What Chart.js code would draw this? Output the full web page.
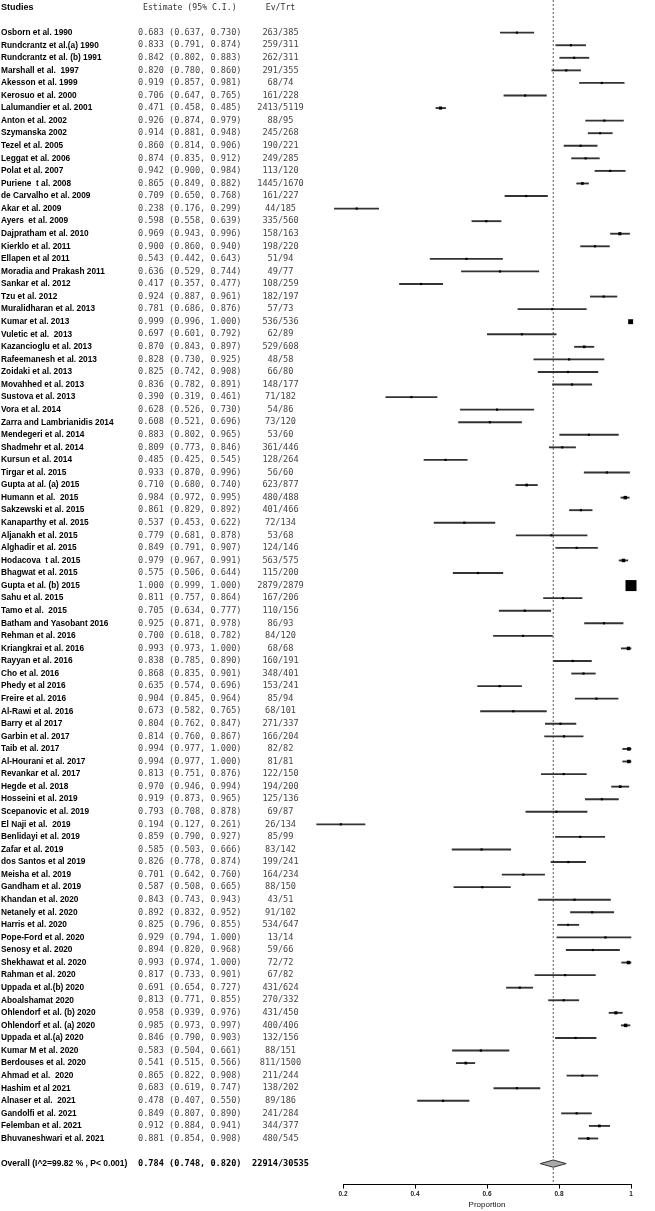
<!DOCTYPE html>
<html>
<head>
<meta charset="utf-8">
<script src="https://cdn.jsdelivr.net/npm/chart.js@4.4.1/dist/chart.umd.min.js"></script>
<style>
  html, body { margin: 0; padding: 0; background: #fff; }
  canvas { display: block; }
</style>
</head>
<body>
<canvas id="forest" width="655" height="1211"></canvas>
<script>
// study labels, top to bottom
const studies = [
  "Osborn et al. 1990", "Rundcrantz et al.(a) 1990", "Rundcrantz et al. (b) 1991", "Marshall et al.  1997",
  "Akesson et al. 1999", "Kerosuo et al. 2000", "Lalumandier et al. 2001", "Anton et al. 2002",
  "Szymanska 2002", "Tezel et al. 2005", "Leggat et al. 2006", "Polat et al. 2007",
  "Puriene  t al. 2008", "de Carvalho et al. 2009", "Akar et al. 2009", "Ayers  et al. 2009",
  "Dajpratham et al. 2010", "Kierklo et al. 2011", "Ellapen et al 2011", "Moradia and Prakash 2011",
  "Sankar et al. 2012", "Tzu et al. 2012", "Muralidharan et al. 2013", "Kumar et al. 2013",
  "Vuletic et al.  2013", "Kazancioglu et al. 2013", "Rafeemanesh et al. 2013", "Zoidaki et al. 2013",
  "Movahhed et al. 2013", "Sustova et al. 2013", "Vora et al. 2014", "Zarra and Lambrianidis 2014",
  "Mendegeri et al. 2014", "Shadmehr et al. 2014", "Kursun et al. 2014", "Tirgar et al. 2015",
  "Gupta at al. (a) 2015", "Humann et al.  2015", "Sakzewski et al. 2015", "Kanaparthy et al. 2015",
  "Aljanakh et al. 2015", "Alghadir et al. 2015", "Hodacova  t al. 2015", "Bhagwat et al. 2015",
  "Gupta et al. (b) 2015", "Sahu et al. 2015", "Tamo et al.  2015", "Batham and Yasobant 2016",
  "Rehman et al. 2016", "Kriangkrai et al. 2016", "Rayyan et al. 2016", "Cho et al. 2016",
  "Phedy et al 2016", "Freire et al. 2016", "Al-Rawi et al. 2016", "Barry et al 2017",
  "Garbin et al. 2017", "Taib et al. 2017", "Al-Hourani et al. 2017", "Revankar et al. 2017",
  "Hegde et al. 2018", "Hosseini et al. 2019", "Scepanovic et al. 2019", "El Naji et al.  2019",
  "Benlidayi et al. 2019", "Zafar et al. 2019", "dos Santos et al 2019", "Meisha et al. 2019",
  "Gandham et al. 2019", "Khandan et al. 2020", "Netanely et al. 2020", "Harris et al. 2020",
  "Pope-Ford et al. 2020", "Senosy et al. 2020", "Shekhawat et al. 2020", "Rahman et al. 2020",
  "Uppada et al.(b) 2020", "Aboalshamat 2020", "Ohlendorf et al. (b) 2020", "Ohlendorf et al. (a) 2020",
  "Uppada et al.(a) 2020", "Kumar M et al. 2020", "Berdouses et al. 2020", "Ahmad et al.  2020",
  "Hashim et al 2021", "Alnaser et al.  2021", "Gandolfi et al. 2021", "Felemban et al. 2021",
  "Bhuvaneshwari et al. 2021"
];

const estimate = [
  0.683, 0.833, 0.842, 0.820, 0.919, 0.706, 0.471, 0.926, 0.914, 0.860, 0.874, 0.942,
  0.865, 0.709, 0.238, 0.598, 0.969, 0.900, 0.543, 0.636, 0.417, 0.924, 0.781, 0.999,
  0.697, 0.870, 0.828, 0.825, 0.836, 0.390, 0.628, 0.608, 0.883, 0.809, 0.485, 0.933,
  0.710, 0.984, 0.861, 0.537, 0.779, 0.849, 0.979, 0.575, 1.000, 0.811, 0.705, 0.925,
  0.700, 0.993, 0.838, 0.868, 0.635, 0.904, 0.673, 0.804, 0.814, 0.994, 0.994, 0.813,
  0.970, 0.919, 0.793, 0.194, 0.859, 0.585, 0.826, 0.701, 0.587, 0.843, 0.892, 0.825,
  0.929, 0.894, 0.993, 0.817, 0.691, 0.813, 0.958, 0.985, 0.846, 0.583, 0.541, 0.865,
  0.683, 0.478, 0.849, 0.912, 0.881
];

const lower = [
  0.637, 0.791, 0.802, 0.780, 0.857, 0.647, 0.458, 0.874, 0.881, 0.814, 0.835, 0.900,
  0.849, 0.650, 0.176, 0.558, 0.943, 0.860, 0.442, 0.529, 0.357, 0.887, 0.686, 0.996,
  0.601, 0.843, 0.730, 0.742, 0.782, 0.319, 0.526, 0.521, 0.802, 0.773, 0.425, 0.870,
  0.680, 0.972, 0.829, 0.453, 0.681, 0.791, 0.967, 0.506, 0.999, 0.757, 0.634, 0.871,
  0.618, 0.973, 0.785, 0.835, 0.574, 0.845, 0.582, 0.762, 0.760, 0.977, 0.977, 0.751,
  0.946, 0.873, 0.708, 0.127, 0.790, 0.503, 0.778, 0.642, 0.508, 0.743, 0.832, 0.796,
  0.794, 0.820, 0.974, 0.733, 0.654, 0.771, 0.939, 0.973, 0.790, 0.504, 0.515, 0.822,
  0.619, 0.407, 0.807, 0.884, 0.854
];

const upper = [
  0.730, 0.874, 0.883, 0.860, 0.981, 0.765, 0.485, 0.979, 0.948, 0.906, 0.912, 0.984,
  0.882, 0.768, 0.299, 0.639, 0.996, 0.940, 0.643, 0.744, 0.477, 0.961, 0.876, 1.000,
  0.792, 0.897, 0.925, 0.908, 0.891, 0.461, 0.730, 0.696, 0.965, 0.846, 0.545, 0.996,
  0.740, 0.995, 0.892, 0.622, 0.878, 0.907, 0.991, 0.644, 1.000, 0.864, 0.777, 0.978,
  0.782, 1.000, 0.890, 0.901, 0.696, 0.964, 0.765, 0.847, 0.867, 1.000, 1.000, 0.876,
  0.994, 0.965, 0.878, 0.261, 0.927, 0.666, 0.874, 0.760, 0.665, 0.943, 0.952, 0.855,
  1.000, 0.968, 1.000, 0.901, 0.727, 0.855, 0.976, 0.997, 0.903, 0.661, 0.566, 0.908,
  0.747, 0.550, 0.890, 0.941, 0.908
];

const events = [
  263, 259, 262, 291, 68, 161, 2413, 88, 245, 190, 249, 113,
  1445, 161, 44, 335, 158, 198, 51, 49, 108, 182, 57, 536,
  62, 529, 48, 66, 148, 71, 54, 73, 53, 361, 128, 56,
  623, 480, 401, 72, 53, 124, 563, 115, 2879, 167, 110, 86,
  84, 68, 160, 348, 153, 85, 68, 271, 166, 82, 81, 122,
  194, 125, 69, 26, 85, 83, 199, 164, 88, 43, 91, 534,
  13, 59, 72, 67, 431, 270, 431, 400, 132, 88, 811, 211,
  138, 89, 241, 344, 480
];

const totals = [
  385, 311, 311, 355, 74, 228, 5119, 95, 268, 221, 285, 120,
  1670, 227, 185, 560, 163, 220, 94, 77, 259, 197, 73, 536,
  89, 608, 58, 80, 177, 182, 86, 120, 60, 446, 264, 60,
  877, 488, 466, 134, 68, 146, 575, 200, 2879, 206, 156, 93,
  120, 68, 191, 401, 241, 94, 101, 337, 204, 82, 81, 150,
  200, 136, 87, 134, 99, 142, 241, 234, 150, 51, 102, 647,
  14, 66, 72, 82, 624, 332, 450, 406, 156, 151, 1500, 244,
  202, 186, 284, 377, 545
];

// relative box weight
const boxWeight = [
  1, 1, 1, 1, 1, 1, 2, 1, 1, 1, 1, 1,
  1.5, 1, 1, 1, 2, 1, 1, 1, 1, 1, 1, 5,
  1, 1.5, 1, 1, 1, 1, 1, 1, 1, 1, 1, 1,
  1.5, 2.5, 1, 1, 1, 1, 2.5, 1, 25, 1, 1, 1,
  1, 2.5, 1, 1, 1, 1, 1, 1, 1, 2.5, 2.5, 1,
  1.5, 1, 1, 1, 1, 1, 1, 1, 1, 1, 1, 1,
  1, 1, 2.5, 1, 1, 1, 2, 2.5, 1, 1, 1.5, 1,
  1, 1, 1, 1.5, 1.5
];

const overallLabel = "Overall (I^2=99.82 % , P< 0.001)";
const overallEstimate = [0.784, 0.748, 0.820];
const overallCounts = [22914, 30535];
const xTicks = [0.2, 0.4, 0.6, 0.8, 1];

// layout of rows on the y scale (row index units)
const overallRow = studies.length + 1;
const yTop = -2.6;
const yBottom = 91.67;
const diamondHalf = 0.29;

const monoFont = '"DejaVu Sans Mono", "Liberation Mono", monospace';
const sansFont = '"Liberation Sans", Arial, sans-serif';

const fmt = v => v.toFixed(3);
const ciText = (e, l, h) => fmt(e) + " (" + fmt(l) + ", " + fmt(h) + ")";

const columnsPlugin = {
  id: "columns",
  afterDraw(chart) {
    const ctx = chart.ctx;
    const y = chart.scales.y;
    ctx.save();
    ctx.textBaseline = "middle";

    // header
    const hy = y.getPixelForValue(-2);
    ctx.fillStyle = "#000";
    ctx.textAlign = "left";
    ctx.font = "bold 9px " + sansFont;
    ctx.fillText("Studies", 1, hy);
    ctx.fillStyle = "#333";
    ctx.font = "8.2px " + monoFont;
    ctx.fillText("Estimate (95% C.I.)", 143, hy);
    ctx.textAlign = "center";
    ctx.fillText("Ev/Trt", 280.5, hy);

    studies.forEach((name, i) => {
      const py = y.getPixelForValue(i);
      ctx.textAlign = "left";
      ctx.fillStyle = "#000";
      ctx.font = "bold 8.3px " + sansFont;
      ctx.fillText(name, 1, py);
      ctx.fillStyle = "#444";
      ctx.font = "8.6px " + monoFont;
      ctx.fillText(ciText(estimate[i], lower[i], upper[i]), 138, py);
      ctx.textAlign = "center";
      ctx.fillText(events[i] + "/" + totals[i], 280.5, py);
    });

    const oy = y.getPixelForValue(overallRow);
    ctx.textAlign = "left";
    ctx.fillStyle = "#000";
    ctx.font = "bold 8.5px " + sansFont;
    ctx.fillText(overallLabel, 1, oy);
    ctx.font = "bold 8.6px " + monoFont;
    ctx.fillText(ciText(overallEstimate[0], overallEstimate[1], overallEstimate[2]), 138, oy);
    ctx.textAlign = "center";
    ctx.fillText(overallCounts[0] + "/" + overallCounts[1], 280.5, oy);
    ctx.restore();
  }
};

const ctx = document.getElementById("forest").getContext("2d");

new Chart(ctx, {
  type: "scatter",
  data: {
    datasets: [
      {
        type: "bar",
        indexAxis: "y",
        data: studies.map((s, i) => ({ y: i, x: [lower[i], upper[i]] })),
        backgroundColor: "#333",
        borderWidth: 0,
        barThickness: 1.2,
        clip: false,
        order: 3
      },
      {
        data: estimate.map((v, i) => ({ x: v, y: i })),
        pointStyle: "rect",
        pointRadius: boxWeight.map(w => 2.2 * Math.sqrt(w) / Math.SQRT2),
        backgroundColor: "#000",
        borderColor: "#000",
        borderWidth: 0,
        clip: false,
        order: 1
      },
      {
        data: [{ x: overallEstimate[0], y: yTop }, { x: overallEstimate[0], y: yBottom }],
        showLine: true,
        borderColor: "#555",
        borderWidth: 1,
        borderDash: [2, 2],
        pointRadius: 0,
        order: 4
      },
      {
        data: [
          { x: overallEstimate[1], y: overallRow },
          { x: overallEstimate[0], y: overallRow - diamondHalf },
          { x: overallEstimate[2], y: overallRow },
          { x: overallEstimate[0], y: overallRow + diamondHalf },
          { x: overallEstimate[1], y: overallRow }
        ],
        showLine: true,
        fill: "shape",
        backgroundColor: "#a8a8a8",
        borderColor: "#333",
        borderWidth: 1,
        pointRadius: 0,
        order: 2
      }
    ]
  },
  options: {
    responsive: false,
    animation: false,
    layout: { autoPadding: false, padding: { left: 343, right: 24, top: 0, bottom: 1 } },
    plugins: {
      legend: { display: false },
      tooltip: { enabled: false }
    },
    scales: {
      x: {
        type: "linear",
        min: 0.2,
        max: 1,
        offset: false,
        afterBuildTicks: scale => { scale.ticks = xTicks.map(v => ({ value: v })); },
        grid: { drawOnChartArea: false, tickLength: 4, color: "#000" },
        border: { color: "#000", width: 1 },
        ticks: {
          color: "#222",
          font: { family: sansFont, size: 6.5, weight: "bold" },
          padding: 2,
          maxRotation: 0,
          autoSkip: false,
          callback: v => String(+v.toFixed(1))
        },
        title: {
          display: true,
          text: "Proportion",
          color: "#111",
          font: { family: sansFont, size: 8 },
          padding: { top: 0, bottom: 0 }
        }
      },
      y: {
        type: "linear",
        display: false,
        reverse: true,
        offset: false,
        min: yTop,
        max: yBottom
      }
    }
  },
  plugins: [columnsPlugin]
});
</script>
</body>
</html>
